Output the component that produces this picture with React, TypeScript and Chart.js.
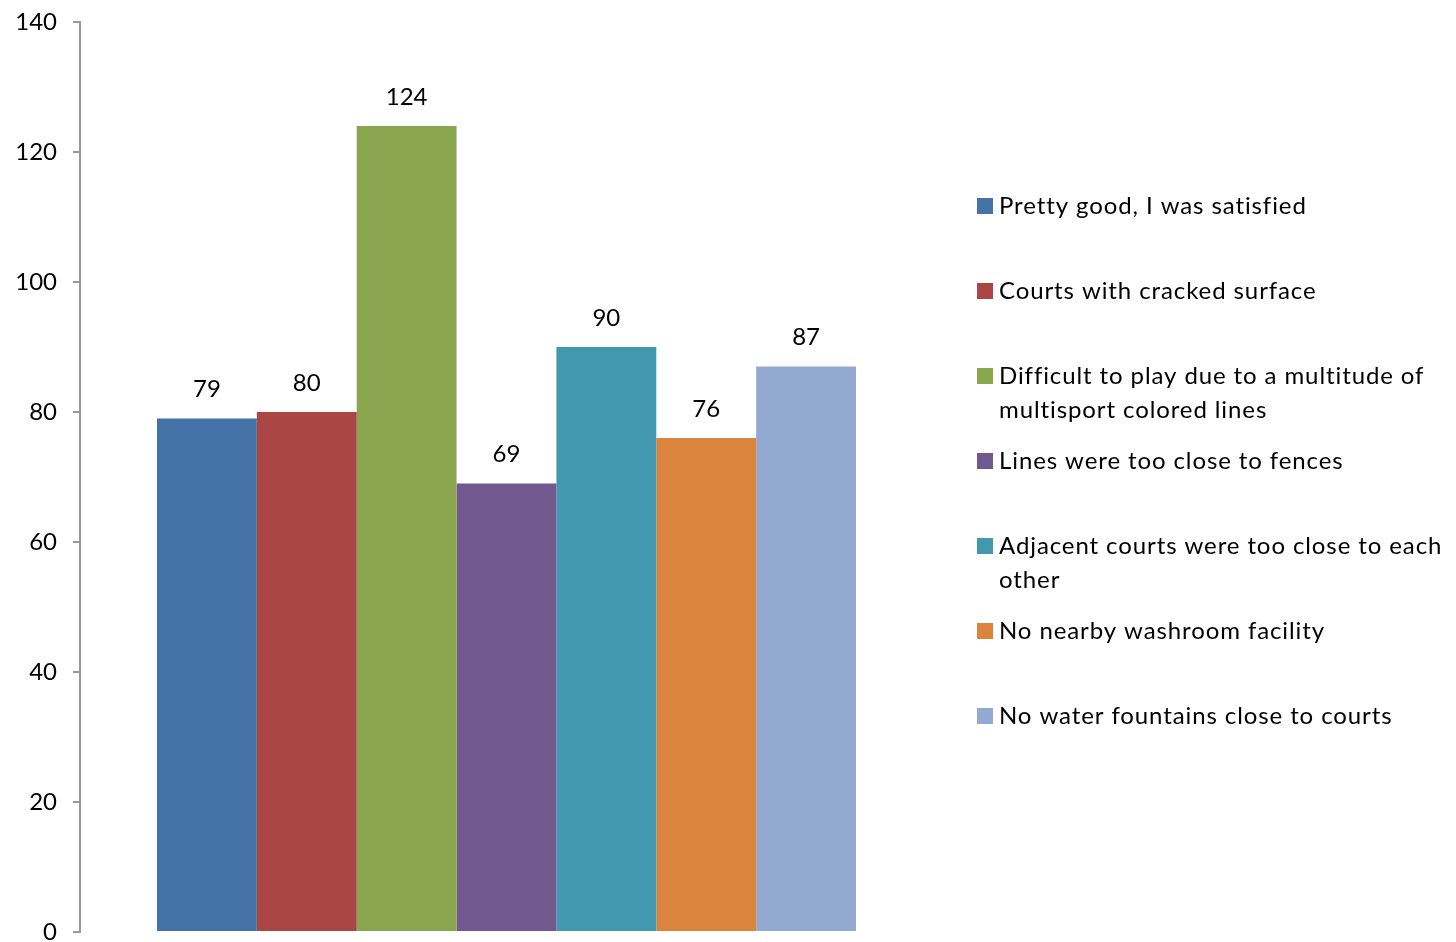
import React, { useEffect, useRef } from "react";
import { Chart, registerables } from "chart.js";

Chart.register(...registerables);

const categories = [
  "Pretty good, I was satisfied",
  "Courts with cracked surface",
  "Difficult to play due to a multitude of multisport colored lines",
  "Lines were too close to fences",
  "Adjacent courts were too close to each other",
  "No nearby washroom facility",
  "No water fountains close to courts",
];
const legendLines = [
  ["Pretty good, I was satisfied"],
  ["Courts with cracked surface"],
  ["Difficult to play due to a multitude of", "multisport colored lines"],
  ["Lines were too close to fences"],
  ["Adjacent courts were too close to each", "other"],
  ["No nearby washroom facility"],
  ["No water fountains close to courts"],
];
const values = [79, 80, 124, 69, 90, 76, 87];
const colors = ["#4572A7", "#AA4643", "#89A54E", "#71588F", "#4198AF", "#DB843D", "#93A9CF"];
const yTicks = [0, 20, 40, 60, 80, 100, 120, 140];

const FONT = "Lato, 'Open Sans', sans-serif";

const labelPlugin = {
  id: "valueLabels",
  afterDatasetsDraw(chart: any) {
    const ctx = chart.ctx;
    ctx.save();
    ctx.font = `24px ${FONT}`;
    ctx.fillStyle = "#000";
    ctx.textAlign = "center";
    ctx.textBaseline = "middle";
    chart.data.datasets.forEach((ds: any, i: number) => {
      const meta = chart.getDatasetMeta(i);
      meta.data.forEach((bar: any, j: number) => {
        ctx.fillText(String(ds.data[j]), bar.x, bar.y - 29);
      });
    });
    ctx.restore();
  },
};

const legendPlugin = {
  id: "customLegend",
  afterDraw(chart: any) {
    const ctx = chart.ctx;
    ctx.save();
    ctx.font = `24px ${FONT}`;
    (ctx as any).letterSpacing = "0.9px";
    ctx.textBaseline = "middle";
    ctx.textAlign = "left";
    const x0 = 977;
    const y0 = 206;
    const step = 85;
    legendLines.forEach((lines, i) => {
      const y = y0 + i * step;
      ctx.fillStyle = colors[i];
      ctx.fillRect(x0, y - 8, 16, 16);
      ctx.fillStyle = "#000";
      lines.forEach((t, k) => {
        ctx.fillText(t, x0 + 22, y + k * 34);
      });
    });
    ctx.restore();
  },
};

export default function App() {
  const ref = useRef<HTMLCanvasElement>(null);
  useEffect(() => {
    document.body.style.margin = "0";
    const chart = new Chart(ref.current!, {
      type: "bar",
      data: {
        labels: [""],
        datasets: categories.map((c, i) => ({
          label: c,
          data: [values[i]],
          backgroundColor: colors[i],
          borderWidth: 0,
          barPercentage: 1,
          categoryPercentage: 0.8195,
        })),
      },
      options: {
        animation: false,
        responsive: false,
        maintainAspectRatio: false,
        layout: { padding: { top: 22, bottom: 10, left: 0, right: 523 } },
        plugins: {
          legend: { display: false },
          tooltip: { enabled: false },
        },
        scales: {
          x: { display: false },
          y: {
            min: 0,
            max: 140,
            afterBuildTicks(scale: any) {
              scale.ticks = yTicks.map((v) => ({ value: v }));
            },
            afterFit(scale: any) {
              scale.width = 80;
              scale.paddingTop = 0;
              scale.paddingBottom = 0;
            },
            ticks: {
              color: "#000",
              font: { size: 24, family: FONT },
              padding: 16,
            },
            grid: {
              drawOnChartArea: false,
              drawTicks: true,
              tickLength: 7,
              color: "#999",
              lineWidth: 2,
            },
            border: { display: true, color: "#999", width: 2 },
          },
        },
      },
      plugins: [labelPlugin, legendPlugin],
    });
    return () => chart.destroy();
  }, []);
  return (
    <div style={{ width: 1456, height: 942 }}>
      <canvas ref={ref} width={1456} height={942} style={{ width: 1456, height: 942, display: "block" }} />
    </div>
  );
}
